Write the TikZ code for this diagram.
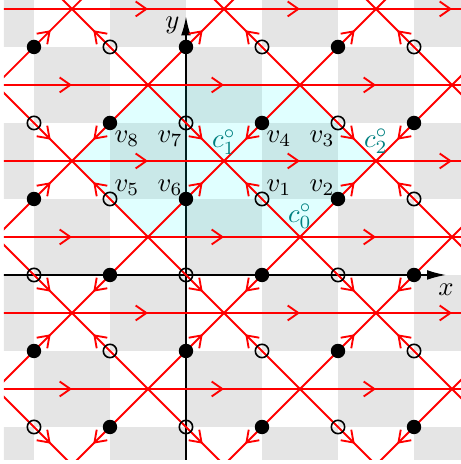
\documentclass[tikz,border=0pt]{standalone}
\usetikzlibrary{arrows.meta,decorations.markings}
\definecolor{aqua}{RGB}{0,255,255}
\begin{document}
\begin{tikzpicture}[
  redline/.style={red, line width=0.7pt},
  harr/.style={postaction={decorate}, decoration={markings,
      mark=at position 0.5 with {\arrow{Straight Barb[length=4pt,width=5.6pt]}}}},
  darr/.style={postaction={decorate}, decoration={markings,
      mark=at position 0.72 with {\arrow{Straight Barb[length=4pt,width=5.6pt]}}}},
  fdot/.style={circle, fill=black, inner sep=0pt, minimum size=5.4pt},
  odot/.style={circle, draw=black, line width=0.6pt, inner sep=0pt, minimum size=5pt},
  vlab/.style={inner sep=0pt},
  clab/.style={inner sep=0pt, text=teal},
  axisline/.style={black, line width=0.5pt, -{Latex[length=7pt,width=3.6pt]}}
]
\useasboundingbox (-2.447,-2.487) rectangle (3.618,3.618);
\begin{scope}
\clip (-2.395,-2.43) rectangle (3.62,3.62);
% checkerboard
\foreach \i in {-3,...,3}{\foreach \j in {-3,...,3}{
  \pgfmathtruncatemacro\pq{mod(\i+\j+10,2)}
  \ifnum\pq=0 \fill[gray!20] (\i,\j) rectangle ++(1,1); \fi
}}
% axes
\coordinate (xs) at (-2.5,0);
\coordinate (xe) at (3.42,0);
\coordinate (ys) at (0,-2.5);
\coordinate (ye) at (0,3.4);
\draw[axisline] (xs) -- (xe);
\draw[axisline] (ys) -- (ye);
% cyan region
\fill[aqua, fill opacity=0.12] (-0.5,2.5) -- (1.5,2.5) -- (2.5,1.5) -- (1.5,0.5) -- (-0.5,0.5) -- (-1.5,1.5) -- cycle;
% horizontal red lines
\foreach \k in {-2,...,3}{\foreach \m in {-3,...,3}{
  \pgfmathsetmacro\ya{\k+0.5}
  \pgfmathsetmacro\xa{2*\m-\k-0.5}
  \draw[redline,harr] (\xa,\ya) -- ++(2,0);
}}
% diagonal red lines
\foreach \i in {-3,...,4}{\foreach \j in {-3,...,4}{
  \pgfmathsetmacro\dy{2*mod(\j+10,2)-1}
  \pgfmathsetmacro\dx{(2*mod(\i+\j+10,2)-1)*(\dy)}
  \pgfmathsetmacro\xa{\i-0.5*(\dx)}
  \pgfmathsetmacro\ya{\j-0.5*(\dy)}
  \pgfmathsetmacro\xb{\i+0.5*(\dx)}
  \pgfmathsetmacro\yb{\j+0.5*(\dy)}
  \draw[redline,darr] (\xa,\ya) -- (\xb,\yb);
}}
% vertices
\foreach \i in {-3,...,4}{\foreach \j in {-3,...,4}{
  \pgfmathtruncatemacro\pq{mod(\i+\j+10,2)}
  \ifnum\pq=1 \node[fdot] (n\i\j) at (\i,\j) {}; \else \node[odot] (n\i\j) at (\i,\j) {}; \fi
}}
\end{scope}
% axis labels
\node[vlab] (lx) at (3.42,-0.197) {$x$};
\node[vlab] (ly) at (-0.178,3.283) {$y$};
% vertex labels
\node[vlab, xshift=0.224cm, yshift=0.145cm] (l1) at (n11.center) {$v_1$};
\node[vlab, xshift=-0.21cm, yshift=0.145cm] (l2) at (n21.center) {$v_2$};
\node[vlab, xshift=-0.21cm, yshift=-0.204cm] (l3) at (n22.center) {$v_3$};
\node[vlab, xshift=0.224cm, yshift=-0.204cm] (l4) at (n12.center) {$v_4$};
\node[vlab, xshift=0.224cm, yshift=0.145cm] (l5) at (n-11.center) {$v_5$};
\node[vlab, xshift=-0.21cm, yshift=0.145cm] (l6) at (n01.center) {$v_6$};
\node[vlab, xshift=-0.21cm, yshift=-0.204cm] (l7) at (n02.center) {$v_7$};
\node[vlab, xshift=0.224cm, yshift=-0.204cm] (l8) at (n-12.center) {$v_8$};
% crossing labels
\coordinate (c0) at (1.5,0.5);
\coordinate (c1) at (0.5,1.5);
\coordinate (c2) at (2.5,1.5);
\node[clab, yshift=0.27cm] (lc0) at (c0) {$c_0^\circ$};
\node[clab, yshift=0.25cm] (lc1) at (c1) {$c_1^\circ$};
\node[clab, yshift=0.26cm] (lc2) at (c2) {$c_2^\circ$};
\end{tikzpicture}
\end{document}
